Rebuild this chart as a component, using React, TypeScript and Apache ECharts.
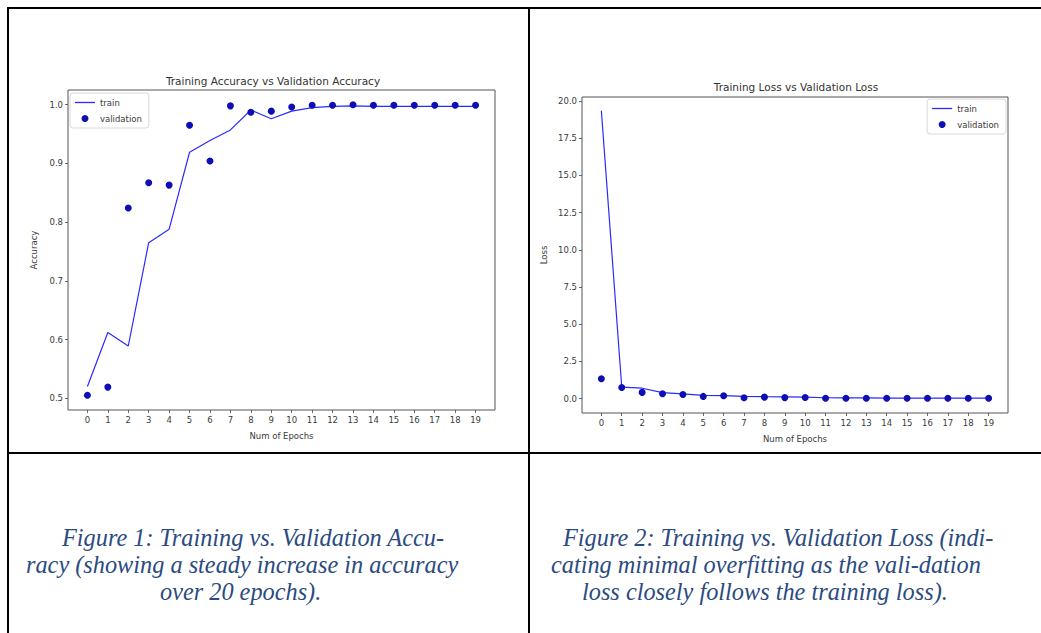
import React, { useEffect, useRef } from "react";
import * as echarts from "echarts";

const epochs = [0, 1, 2, 3, 4, 5, 6, 7, 8, 9, 10, 11, 12, 13, 14, 15, 16, 17, 18, 19];

const accTrain = [0.52, 0.612, 0.589, 0.765, 0.788, 0.919, 0.939, 0.957, 0.991, 0.976, 0.989, 0.995, 0.997, 0.998, 0.997, 0.997, 0.997, 0.997, 0.997, 0.997];
const accVal = [0.505, 0.519, 0.824, 0.867, 0.863, 0.965, 0.904, 0.998, 0.987, 0.989, 0.996, 0.999, 0.999, 1.0, 0.999, 0.999, 0.999, 0.999, 0.999, 0.999];

const lossTrain = [19.35, 0.78, 0.7, 0.4, 0.32, 0.22, 0.2, 0.15, 0.13, 0.12, 0.1, 0.06, 0.05, 0.05, 0.04, 0.04, 0.03, 0.03, 0.03, 0.03];
const lossVal = [1.34, 0.75, 0.42, 0.33, 0.28, 0.15, 0.2, 0.06, 0.1, 0.07, 0.08, 0.03, 0.03, 0.03, 0.03, 0.03, 0.03, 0.03, 0.03, 0.03];

const accTicks = [0.5, 0.6, 0.7, 0.8, 0.9, 1.0];
const lossTicks = [0, 2.5, 5, 7.5, 10, 12.5, 15, 17.5, 20];

const caption1 = [
  "Figure 1: Training vs. Validation Accu-",
  "racy (showing a steady increase in accuracy",
  "over 20 epochs).",
];
const caption2 = [
  "Figure 2: Training vs. Validation Loss (indi-",
  "cating minimal overfitting as the vali-dation",
  "loss closely follows the training loss).",
];

const FONT = "DejaVu Sans";
const TXT = "#3a3a3a";
const LINE_C = "#2a2aff";
const DOT_C = "#0e0eb4";

function pairs(vals: number[]) {
  return epochs.map((e, i) => [e, vals[i]]);
}

function xAxisFor(grid: number) {
  return {
    gridIndex: grid,
    type: "value",
    min: -0.95,
    max: 19.95,
    axisLine: { show: false, onZero: false },
    splitLine: { show: false },
    axisTick: { show: true, customValues: epochs, length: 3, lineStyle: { color: "#444", width: 0.8 } },
    axisLabel: { customValues: epochs, fontSize: 8.5, color: TXT, margin: 5, fontFamily: FONT },
    name: "Num of Epochs",
    nameLocation: "middle",
    nameGap: 21,
    nameTextStyle: { fontSize: 8.5, color: TXT, fontFamily: FONT },
  };
}

function yAxisFor(grid: number, min: number, max: number, ticks: number[], name: string, gap: number) {
  return {
    gridIndex: grid,
    type: "value",
    min,
    max,
    axisLine: { show: false, onZero: false },
    splitLine: { show: false },
    axisTick: { show: true, customValues: ticks, length: 3, lineStyle: { color: "#444", width: 0.8 } },
    axisLabel: {
      customValues: ticks,
      fontSize: 8.5,
      color: TXT,
      margin: 5,
      fontFamily: FONT,
      formatter: (v: number) => v.toFixed(1),
    },
    name,
    nameLocation: "middle",
    nameGap: gap,
    nameTextStyle: { fontSize: 8.5, color: TXT, fontFamily: FONT },
  };
}

function legendFor(pos: any) {
  return {
    ...pos,
    orient: "vertical",
    data: [
      { name: "train", icon: "path://M0,0 L20,0 L20,1.3 L0,1.3 Z" },
      { name: "validation", icon: "circle" },
    ],
    itemWidth: 20,
    itemHeight: 7,
    itemGap: 7,
    padding: [5, 7, 5, 5],
    borderColor: "#d8d8d8",
    borderWidth: 1,
    borderRadius: 3,
    backgroundColor: "rgba(255,255,255,0.85)",
    textStyle: { fontSize: 8.5, color: TXT, fontFamily: FONT },
    selectedMode: false,
  };
}

function captionTexts(lines: string[], xs: number[], y0: number) {
  return lines.map((t, i) => ({
    type: "text",
    x: xs[i],
    y: y0 + i * 27,
    style: {
      text: t,
      font: "italic 24.3px 'Liberation Serif', 'Times New Roman', serif",
      fill: "#2b4b80",
      textAlign: "left",
      textVerticalAlign: "middle",
    },
    silent: true,
  }));
}

export default function App() {
  const ref = useRef<HTMLDivElement>(null);

  useEffect(() => {
    if (!ref.current) return;
    const chart = echarts.init(ref.current, undefined, { renderer: "svg" });
    const lineStyleBlack = { stroke: "#000", lineWidth: 2 };
    const option: any = {
      animation: false,
      backgroundColor: "#ffffff",
      textStyle: { fontFamily: FONT },
      grid: [
        { left: 68, top: 90, width: 427, height: 320, show: true, borderColor: "#555", borderWidth: 1, backgroundColor: "transparent" },
        { left: 582, top: 97, width: 426, height: 316, show: true, borderColor: "#555", borderWidth: 1, backgroundColor: "transparent" },
      ],
      xAxis: [xAxisFor(0), xAxisFor(1)],
      yAxis: [
        yAxisFor(0, 0.48, 1.025, accTicks, "Accuracy", 30),
        yAxisFor(1, -0.965, 20.27, lossTicks, "Loss", 34),
      ],
      legend: [legendFor({ left: 70, top: 93 }), legendFor({ right: 35, top: 99 })],
      series: [
        {
          name: "train",
          type: "line",
          xAxisIndex: 0,
          yAxisIndex: 0,
          data: pairs(accTrain),
          symbol: "none",
          lineStyle: { color: LINE_C, width: 1.2 },
          itemStyle: { color: LINE_C },
          z: 2,
        },
        {
          name: "validation",
          type: "scatter",
          xAxisIndex: 0,
          yAxisIndex: 0,
          data: pairs(accVal),
          symbol: "circle",
          symbolSize: 7,
          itemStyle: { color: DOT_C, opacity: 1 },
          z: 3,
        },
        {
          name: "train",
          type: "line",
          xAxisIndex: 1,
          yAxisIndex: 1,
          data: pairs(lossTrain),
          symbol: "none",
          lineStyle: { color: LINE_C, width: 1.2 },
          itemStyle: { color: LINE_C },
          z: 2,
        },
        {
          name: "validation",
          type: "scatter",
          xAxisIndex: 1,
          yAxisIndex: 1,
          data: pairs(lossVal),
          symbol: "circle",
          symbolSize: 7,
          itemStyle: { color: DOT_C, opacity: 1 },
          z: 3,
        },
      ],
      graphic: [
        { type: "line", shape: { x1: 7, y1: 8, x2: 1041, y2: 8 }, style: lineStyleBlack, silent: true, z: 100 },
        { type: "line", shape: { x1: 8, y1: 7, x2: 8, y2: 633 }, style: lineStyleBlack, silent: true, z: 100 },
        { type: "line", shape: { x1: 529, y1: 7, x2: 529, y2: 633 }, style: lineStyleBlack, silent: true, z: 100 },
        { type: "line", shape: { x1: 7, y1: 453, x2: 1041, y2: 453 }, style: lineStyleBlack, silent: true, z: 100 },
        {
          type: "text",
          x: 273,
          y: 81,
          style: { text: "Training Accuracy vs Validation Accuracy", font: `10.5px '${FONT}'`, fill: "#333", textAlign: "center", textVerticalAlign: "middle" },
          silent: true,
        },
        {
          type: "text",
          x: 796,
          y: 87,
          style: { text: "Training Loss vs Validation Loss", font: `10.5px '${FONT}'`, fill: "#333", textAlign: "center", textVerticalAlign: "middle" },
          silent: true,
        },
        ...captionTexts(caption1, [62, 26, 160], 537),
        ...captionTexts(caption2, [563, 551, 582], 537),
      ],
    };
    chart.setOption(option);
    return () => chart.dispose();
  }, []);

  return (
    <div
      ref={ref}
      style={{ position: "fixed", left: 0, top: 0, width: 1041, height: 633, background: "#fff" }}
    />
  );
}
